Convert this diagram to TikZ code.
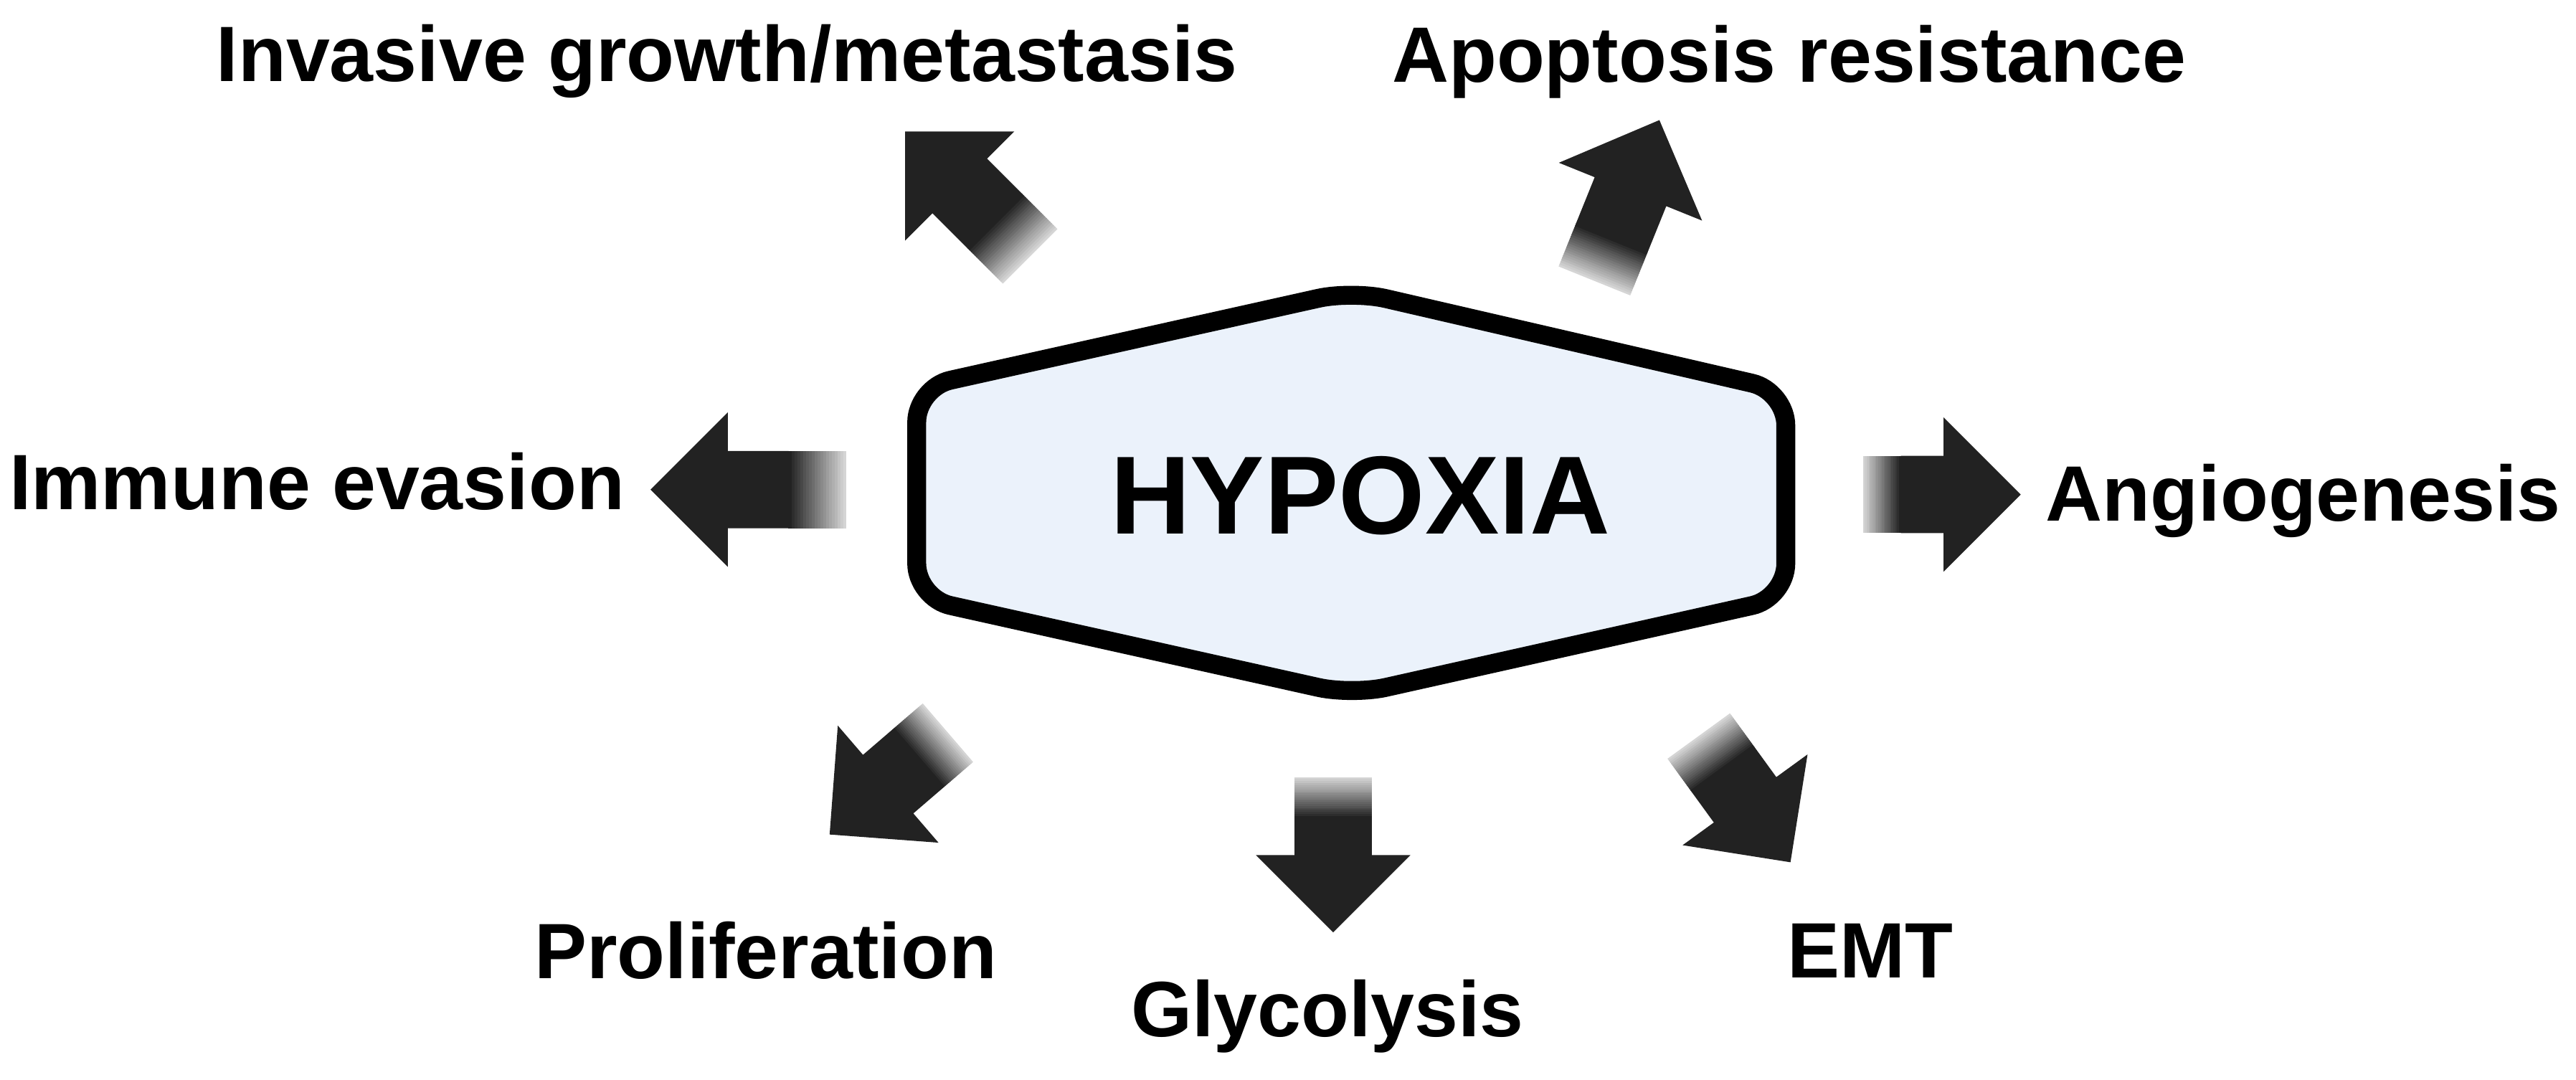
\documentclass[tikz,border=0pt]{standalone}
\usepackage{fontspec}
\setmainfont{Liberation Sans}
\usetikzlibrary{calc,positioning}

\definecolor{hexfill}{HTML}{EBF2FB}
\definecolor{arrowfill}{HTML}{222222}

% block arrow from a tail coordinate: tail, angle, length, fade length
\newcommand{\fadearrow}[4]{%
	\begin{scope}[shift={(#1)},rotate=#2]
		\fill[arrowfill] (#4,-23.5) -- ({#3-47},-23.5) -- ({#3-47},-47) -- (#3,0)
			-- ({#3-47},47) -- ({#3-47},23.5) -- (#4,23.5) -- cycle;
		\foreach \k [evaluate=\k as \pct using {int(15+85*(\k+1)/20)}] in {0,...,19}
			\fill[arrowfill!\pct!white] ({\k*#4/20},-23.5) rectangle ({(\k+1)*#4/20+0.4},23.5);
	\end{scope}}

\begin{document}
\begin{tikzpicture}[x=0.02cm,y=-0.02cm,
	lbl/.style={font=\fontsize{27.2}{33}\selectfont\bfseries,anchor=base,inner sep=0pt},
	hexline/.style={draw=black,line width=0.23cm,fill=hexfill,rounded corners=0.42cm,line join=round}
	]
	\useasboundingbox (0,0) rectangle (1568,657);

	% centre box
	\draw[hexline] (558,300) -- (558,236) -- (823,177) -- (1087,238) -- (1087,364)
		-- (823,423) -- (558,364) -- cycle;
	\node[lbl,font=\fontsize{38.5}{46}\selectfont\bfseries] (hyp) at (828,325) {HYPOXIA};

	% arrow tails
	\coordinate (tinv) at (627,156);
	\coordinate (tapo) at (970.5,171);
	\coordinate (timm) at (515,298);
	\coordinate (tang) at (1134,301);
	\coordinate (tpro) at (577,446);
	\coordinate (tgly) at (811.5,473);
	\coordinate (temt) at (1034,448);

	\fadearrow{tinv}{135}{107.5}{30}
	\fadearrow{tapo}{68}{105.6}{28}
	\fadearrow{timm}{180}{119}{35}
	\fadearrow{tang}{0}{96}{23}
	\fadearrow{tpro}{220.7}{95}{24}
	\fadearrow{tgly}{270}{94.5}{25}
	\fadearrow{temt}{306}{95}{25}

	% outcomes
	\node[lbl] (inv) at (442.5,49.5) {Invasive growth/metastasis};
	\node[lbl] (apo) at (1089,50) {Apoptosis resistance};
	\node[lbl] (imm) at (193,310) {Immune evasion};
	\node[lbl] (ang) at (1402,317) {Angiogenesis};
	\node[lbl] (pro) at (466,595.5) {Proliferation};
	\node[lbl] (gly) at (808,631) {Glycolysis};
	\node[lbl] (emt) at (1138.5,595) {EMT};

\end{tikzpicture}
\end{document}
